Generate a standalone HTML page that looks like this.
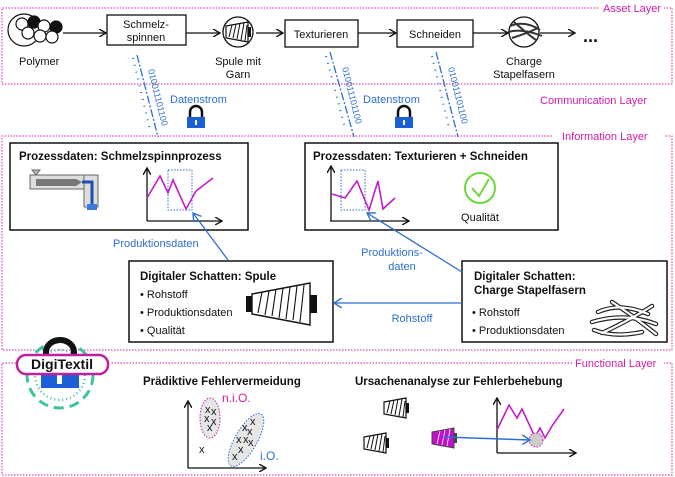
<!DOCTYPE html>
<html><head><meta charset="utf-8"><style>
html,body{margin:0;padding:0;background:#fff}
svg{display:block}
text{font-family:"Liberation Sans",sans-serif;font-size:11px;fill:#111}
.b{font-weight:bold;font-size:11.5px}
.bl{fill:#2f6fd0}
.mg{fill:#d21ca8}
</style></head><body>
<svg width="675" height="477" viewBox="0 0 675 477" xmlns="http://www.w3.org/2000/svg">
<defs>
<marker id="ak" markerWidth="8" markerHeight="8" refX="7" refY="4" orient="auto" markerUnits="userSpaceOnUse"><path d="M0,0 L7,4 L0,8" fill="none" stroke="#111" stroke-width="1.4"/></marker>
<marker id="ab" markerWidth="10" markerHeight="10" refX="8" refY="5" orient="auto" markerUnits="userSpaceOnUse"><path d="M0,0 L8,5 L0,10" fill="none" stroke="#2f6fd0" stroke-width="1.4"/></marker>
<g id="sp">
<path d="M0,4 L22,0 L22,20 L0,16 Z" fill="#fff" stroke="#111" stroke-width="1.2"/>
<path d="M3,15 L6,3 M7,16 L10,2 M11,17 L14,1 M15,18 L18,1 M19,19 L21,3" stroke="#111" stroke-width="1"/>
<rect x="22" y="5" width="3" height="10" fill="#111"/>
</g>
</defs>

<!-- layer frames -->
<g fill="none" stroke="#d21ca8" stroke-width="1" stroke-dasharray="1.5,1.5">
<path d="M598,8 H2 V84 H672 V8 H664"/>
<path d="M552,136 H2 V350 H672 V136 H664"/>
<path d="M16,363 H2 V475 H672 V363 H664 M572,363 H110"/>
</g>
<text x="603" y="12" class="mg">Asset Layer</text>
<text x="540" y="104" class="mg">Communication Layer</text>
<text x="562" y="140" class="mg">Information Layer</text>
<text x="575" y="367" class="mg">Functional Layer</text>

<!-- asset row -->
<g stroke="#111" stroke-width="1.2">
<circle cx="24" cy="30" r="16" fill="#fff"/>
<circle cx="22" cy="24" r="6" fill="#fff"/><circle cx="34" cy="22" r="6" fill="#111"/><circle cx="44" cy="26" r="6" fill="#fff"/><circle cx="56" cy="27" r="6" fill="#111"/>
<circle cx="28" cy="33" r="6" fill="#fff"/><circle cx="40" cy="36" r="6" fill="#fff"/><circle cx="52" cy="37" r="6" fill="#fff"/>
</g>
<text x="19" y="65">Polymer</text>
<g stroke="#111" stroke-width="1.3" fill="none">
<line x1="63" y1="33" x2="106" y2="33" marker-end="url(#ak)"/>
<rect x="107" y="15" width="79" height="30" fill="#fff"/>
<line x1="186" y1="33" x2="220" y2="33" marker-end="url(#ak)"/>
<circle cx="238" cy="32" r="15"/>
<line x1="256" y1="33" x2="283" y2="33" marker-end="url(#ak)"/>
<rect x="285" y="20" width="73" height="27" fill="#fff"/>
<line x1="358" y1="33" x2="396" y2="33" marker-end="url(#ak)"/>
<rect x="397" y="20" width="76" height="27" fill="#fff"/>
<line x1="473" y1="33" x2="508" y2="33" marker-end="url(#ak)"/>
<circle cx="524" cy="32" r="15"/>
<line x1="540" y1="33" x2="575" y2="33" marker-end="url(#ak)"/>
</g>
<use href="#sp" x="226" y="22"/>
<g stroke="#333" stroke-width="2" fill="none"><path d="M510,26 Q525,20 540,30 M508,32 Q522,28 542,36 M512,38 Q525,34 538,28 M514,22 Q530,36 536,40"/></g>
<text x="146" y="28" text-anchor="middle">Schmelz-</text>
<text x="146" y="41" text-anchor="middle">spinnen</text>
<text x="321" y="38" text-anchor="middle">Texturieren</text>
<text x="435" y="38" text-anchor="middle">Schneiden</text>
<text x="238" y="65" text-anchor="middle">Spule mit</text>
<text x="238" y="78" text-anchor="middle">Garn</text>
<text x="524" y="65" text-anchor="middle">Charge</text>
<text x="524" y="78" text-anchor="middle">Stapelfasern</text>
<text x="583" y="42" style="font-size:18px;font-weight:bold">...</text>

<!-- data streams -->
<g stroke="#2f6fd0" stroke-width="1.3" fill="none">
<line x1="137" y1="55" x2="158" y2="137" stroke-dasharray="8,2,2,2"/>
<line x1="133" y1="58" x2="150" y2="130" stroke-dasharray="1,6" stroke-width="2"/>
<line x1="330" y1="52" x2="354" y2="137" stroke-dasharray="8,2,2,2"/>
<line x1="326" y1="56" x2="345" y2="128" stroke-dasharray="1,6" stroke-width="2"/>
<line x1="436" y1="52" x2="458" y2="137" stroke-dasharray="8,2,2,2"/>
<line x1="432" y1="56" x2="449" y2="128" stroke-dasharray="1,6" stroke-width="2"/>
</g>
<text class="bl" transform="translate(148,70) rotate(76)" style="font-size:9px">010011101100</text>
<text class="bl" transform="translate(342,68) rotate(76)" style="font-size:9px">010011101100</text>
<text class="bl" transform="translate(448,68) rotate(76)" style="font-size:9px">010011101100</text>
<text x="170" y="103" class="bl">Datenstrom</text>
<text x="363" y="103" class="bl">Datenstrom</text>
<g>
<path d="M190,117 V112 A6,6 0 0 1 202,112 V117" fill="none" stroke="#111" stroke-width="2.5"/>
<rect x="187" y="117" width="18" height="11" fill="#1d5fd6"/><rect x="195" y="120" width="2" height="5" fill="#fff"/>
<path d="M398,117 V112 A6,6 0 0 1 410,112 V117" fill="none" stroke="#111" stroke-width="2.5"/>
<rect x="395" y="117" width="18" height="11" fill="#1d5fd6"/><rect x="403" y="120" width="2" height="5" fill="#fff"/>
</g>

<!-- info boxes -->
<g fill="#fff" stroke="#111" stroke-width="1.5">
<rect x="10" y="143" width="238" height="87"/>
<rect x="305" y="143" width="253" height="87"/>
<rect x="129" y="261" width="204" height="81"/>
<rect x="462" y="261" width="205" height="81"/>
</g>
<text x="19" y="160" class="b">Prozessdaten: Schmelzspinnprozess</text>
<text x="313" y="160" class="b">Prozessdaten: Texturieren + Schneiden</text>
<!-- extruder -->
<rect x="30" y="175" width="68" height="14" fill="#ddd" stroke="#666"/>
<rect x="84" y="175" width="14" height="32" fill="#ddd" stroke="#666"/>
<rect x="36" y="179" width="40" height="7" fill="#777"/>
<path d="M76,179 L82,182 L76,186Z" fill="#777"/>
<path d="M82,182 H92 V205" fill="none" stroke="#1d4fb0" stroke-width="3"/>
<rect x="87" y="204" width="10" height="6" fill="#3b7be0"/>
<path d="M32,170 H40 L36,175Z" fill="#bbb" stroke="#666"/>
<!-- graphs -->
<g fill="none">
<line x1="147" y1="221" x2="222" y2="221" stroke="#111" stroke-width="1.3" marker-end="url(#ak)"/>
<line x1="147" y1="221" x2="147" y2="168" stroke="#111" stroke-width="1.3" marker-end="url(#ak)"/>
<polyline points="147,198 160,176 168,193 173,180 186,209 196,191 213,178" stroke="#c21ec8" stroke-width="1.6"/>
<rect x="168" y="170" width="24" height="40" stroke="#2f6fd0" stroke-dasharray="1.5,1.5"/>
<line x1="330" y1="221" x2="409" y2="221" stroke="#111" stroke-width="1.3" marker-end="url(#ak)"/>
<line x1="331" y1="221" x2="331" y2="166" stroke="#111" stroke-width="1.3" marker-end="url(#ak)"/>
<polyline points="332,194 345,198 357,181 369,210 378,181 383,209 395,198" stroke="#c21ec8" stroke-width="1.6"/>
<rect x="341" y="170" width="24" height="40" stroke="#2f6fd0" stroke-dasharray="1.5,1.5"/>
<circle cx="480" cy="188" r="15" stroke="#6ed83a" stroke-width="2"/>
<path d="M472,188 L479,196 L489,179" stroke="#6ed83a" stroke-width="2"/>
</g>
<text x="480" y="221" text-anchor="middle">Qualität</text>
<!-- info arrows -->
<g stroke="#2f6fd0" stroke-width="1.3" fill="none">
<line x1="228" y1="260" x2="193" y2="213" marker-end="url(#ab)"/>
<line x1="462" y1="272" x2="367" y2="213" marker-end="url(#ab)"/>
<line x1="462" y1="303" x2="334" y2="303" marker-end="url(#ab)"/>
</g>
<text x="113" y="247" class="bl">Produktionsdaten</text>
<text x="392" y="256" class="bl" text-anchor="middle">Produktions-</text>
<text x="402" y="270" class="bl" text-anchor="middle">daten</text>
<text x="412" y="322" class="bl" text-anchor="middle">Rohstoff</text>
<text x="140" y="280" class="b">Digitaler Schatten: Spule</text>
<text x="140" y="298">• Rohstoff</text>
<text x="140" y="316">• Produktionsdaten</text>
<text x="140" y="334">• Qualität</text>
<g transform="translate(250,283)">
<rect x="-4" y="13" width="6" height="16" fill="#111"/>
<path d="M2,11 L60,0 L60,42 L2,31 Z" fill="#fff" stroke="#111" stroke-width="1.4"/>
<path d="M8,30 L12,9 M15,32 L19,8 M22,33 L26,6 M29,35 L33,5 M36,36 L40,4 M43,37 L47,3 M50,39 L54,2" stroke="#111" stroke-width="1.1"/>
<rect x="60" y="12" width="7" height="18" fill="#111"/>
</g>
<text x="474" y="280" class="b">Digitaler Schatten:</text>
<text x="474" y="294" class="b">Charge Stapelfasern</text>
<text x="472" y="316">• Rohstoff</text>
<text x="472" y="334">• Produktionsdaten</text>
<g fill="none" stroke="#222" stroke-width="4.5" stroke-linecap="round">
<path d="M598,312 Q620,302 648,314"/><path d="M592,322 Q625,312 656,324"/><path d="M602,333 Q630,320 652,306"/><path d="M594,330 Q615,338 642,332"/><path d="M612,302 Q632,315 656,334"/>
</g>
<g fill="none" stroke="#fff" stroke-width="2.2" stroke-linecap="round">
<path d="M598,312 Q620,302 648,314"/><path d="M592,322 Q625,312 656,324"/><path d="M602,333 Q630,320 652,306"/><path d="M594,330 Q615,338 642,332"/><path d="M612,302 Q632,315 656,334"/>
</g>

<!-- logo -->
<circle cx="60" cy="375" r="33" fill="none" stroke="#3cc49a" stroke-width="3" stroke-dasharray="10,6"/>
<circle cx="60" cy="375" r="25" fill="none" stroke="#3cc49a" stroke-width="2.5" stroke-dasharray="1,3"/>
<path d="M46,360 V352 A14,12 0 0 1 74,352 V360" fill="none" stroke="#111" stroke-width="6"/>
<rect x="41" y="370" width="38" height="18" fill="#1d5fd6"/>
<rect x="57" y="374" width="5" height="10" fill="#fff"/>
<rect x="17" y="355" width="91" height="19" rx="9" fill="#fff" stroke="#c0209c" stroke-width="2.5"/>
<text x="62" y="369" text-anchor="middle" style="font-weight:bold;font-size:14px">DigiTextil</text>

<!-- functional -->
<text x="143" y="385" class="b">Prädiktive Fehlervermeidung</text>
<text x="355" y="385" class="b">Ursachenanalyse zur Fehlerbehebung</text>
<g fill="none">
<line x1="188" y1="468" x2="266" y2="468" stroke="#111" stroke-width="1.3" marker-end="url(#ak)"/>
<line x1="188" y1="468" x2="188" y2="401" stroke="#111" stroke-width="1.3" marker-end="url(#ak)"/>
<ellipse cx="210" cy="418" rx="10" ry="20" fill="#e6e6e6" stroke="#d21ca8" stroke-dasharray="1.5,1.5"/>
<ellipse cx="246" cy="440" rx="11" ry="30" transform="rotate(30 246 440)" fill="#e6e6e6" stroke="#2f6fd0" stroke-dasharray="1.5,1.5"/>
</g>
<g style="font-size:10px">
<text x="205" y="413">x</text><text x="211" y="415">x</text><text x="204" y="422">x</text><text x="211" y="425">x</text><text x="207" y="431">x</text>
<text x="250" y="425">x</text><text x="242" y="431">x</text><text x="247" y="435">x</text><text x="236" y="443">x</text><text x="243" y="443">x</text><text x="248" y="446">x</text><text x="238" y="453">x</text><text x="232" y="460">x</text>
<text x="199" y="453">x</text>
</g>
<text x="222" y="402" class="mg" style="font-size:12px">n.i.O.</text>
<text x="260" y="460" class="bl" style="font-size:12px">i.O.</text>
<use href="#sp" x="384" y="398"/>
<use href="#sp" x="364" y="433"/>
<g transform="translate(432,428)">
<path d="M0,4 L22,0 L22,20 L0,16 Z" fill="#c010c8" stroke="#444" stroke-width="1"/>
<path d="M5,16 L8,3 M10,17 L13,2 M15,18 L18,1" stroke="#fff" stroke-width="0.8"/>
<rect x="22" y="5" width="3" height="10" fill="#444"/>
</g>
<g fill="none">
<line x1="497" y1="453" x2="576" y2="453" stroke="#111" stroke-width="1.3" marker-end="url(#ak)"/>
<line x1="497" y1="453" x2="497" y2="398" stroke="#111" stroke-width="1.3" marker-end="url(#ak)"/>
<polyline points="497,430 509,405 517,418 522,409 535,437 540,428 545,438 552,426 564,409" stroke="#c21ec8" stroke-width="1.6"/>
<circle cx="536" cy="440" r="7" fill="#ccc" stroke="#d21ca8" stroke-dasharray="1.5,1.5"/>
<line x1="443" y1="437" x2="530" y2="440" stroke="#2f6fd0" stroke-width="1.5" marker-end="url(#ab)"/>
</g>
</svg>
</body></html>
